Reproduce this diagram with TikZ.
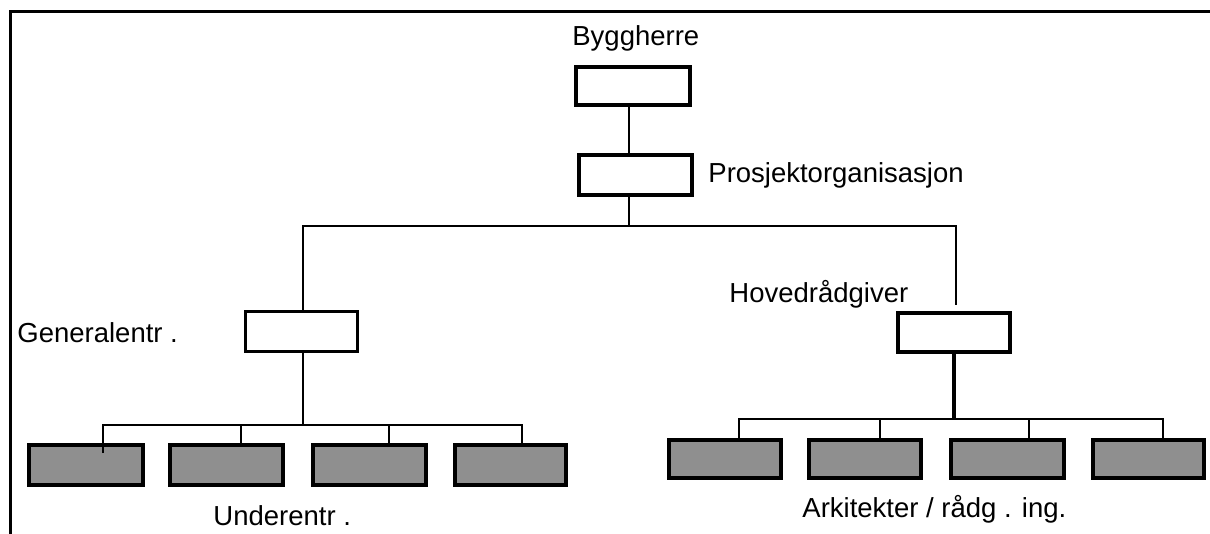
\documentclass[tikz,border=0pt]{standalone}
\usepackage{fontspec}
\setmainfont{Liberation Sans}
\definecolor{boxgray}{RGB}{143,143,143}
\begin{document}
\begin{tikzpicture}[x=0.5pt,y=-0.5pt,
  lbl/.style={anchor=base west,inner sep=0pt,font=\fontsize{13.75pt}{16pt}\selectfont},
  wbox/.style={draw,line width=2pt,fill=white,inner sep=0pt,minimum width=57pt,minimum height=19pt},
  gbox/.style={wbox,fill=boxgray},
  conn/.style={line width=1.2pt},
  thickconn/.style={line width=1.7pt}]
\useasboundingbox (0,0) rectangle (1210,534);
\clip (0,0) rectangle (1210,534);
% frame (only left and top edges visible)
\draw[line width=1.5pt] (10,600) -- (10,12) -- (1260,12);

% boxes
\node[wbox] (A) at (633,86) {};
\node[wbox,minimum width=56.5pt,minimum height=20pt] (B) at (635.5,175) {};
\node[wbox,line width=1.5pt,minimum width=56pt,minimum height=20pt] (C) at (301.5,331.5) {};
\node[wbox,minimum width=56pt,minimum height=19.5pt] (D) at (954,332.5) {};

\node[gbox,minimum width=57pt,minimum height=20pt] (L1) at (86,465) {};
\node[gbox,minimum width=56.5pt,minimum height=20pt] (L2) at (226.5,465) {};
\node[gbox,minimum width=56.5pt,minimum height=20pt] (L3) at (369.5,465) {};
\node[gbox,minimum width=55.5pt,minimum height=20pt] (L4) at (510.5,465) {};

\node[gbox,minimum width=56pt] (R1) at (725,459) {};
\node[gbox,minimum width=56pt] (R2) at (865,459) {};
\node[gbox,minimum width=56.5pt] (R3) at (1007.5,459) {};
\node[gbox,minimum width=55.5pt] (R4) at (1148.5,459) {};

% labels
\node[lbl] (tA) at (572,46) {Byggherre};
\node[lbl] (tB) at (708,183) {Prosjektorganisasjon};
\node[lbl] (tC) at (17,343) {Generalentr .};
\node[lbl] (tD) at (729,302) {Hovedrådgiver};
\node[lbl] (tL) at (213,525) {Underentr .};
\node[lbl] (tR) at (802,517) {Arkitekter / rådg . ing.};

% junction coordinates
\coordinate (xa) at (629,0);
\coordinate (hL) at (303,226);
\coordinate (hR) at (956,226);
\coordinate (dEnd) at (956,305);
\coordinate (lb1) at (103,425);
\coordinate (lb2) at (241,425);
\coordinate (lb3) at (389,425);
\coordinate (lb4) at (522,425);
\coordinate (l1end) at (103,453);
\coordinate (rb1) at (739,419);
\coordinate (rb2) at (880,419);
\coordinate (rb3) at (1029,419);
\coordinate (rb4) at (1163,419);

% connectors
\draw[conn] (A.south -| xa) -- (B.north -| xa);
\draw[conn] (B.south -| xa) -- (xa |- hL);
\draw[conn] (C.north -| hL) -- (hL) -- (hR) -- (dEnd);

\draw[conn] (C.south -| hL) -- (hL |- lb1);
\draw[conn] (l1end) -- (lb1) -- (lb4) -- (L4.north -| lb4);
\draw[conn] (lb2) -- (L2.north -| lb2);
\draw[conn] (lb3) -- (L3.north -| lb3);

\draw[thickconn] (D.south) -- (D.south |- rb1);
\draw[conn] (R1.north -| rb1) -- (rb1) -- (rb4) -- (R4.north -| rb4);
\draw[conn] (rb2) -- (R2.north -| rb2);
\draw[conn] (rb3) -- (R3.north -| rb3);
\end{tikzpicture}
\end{document}
